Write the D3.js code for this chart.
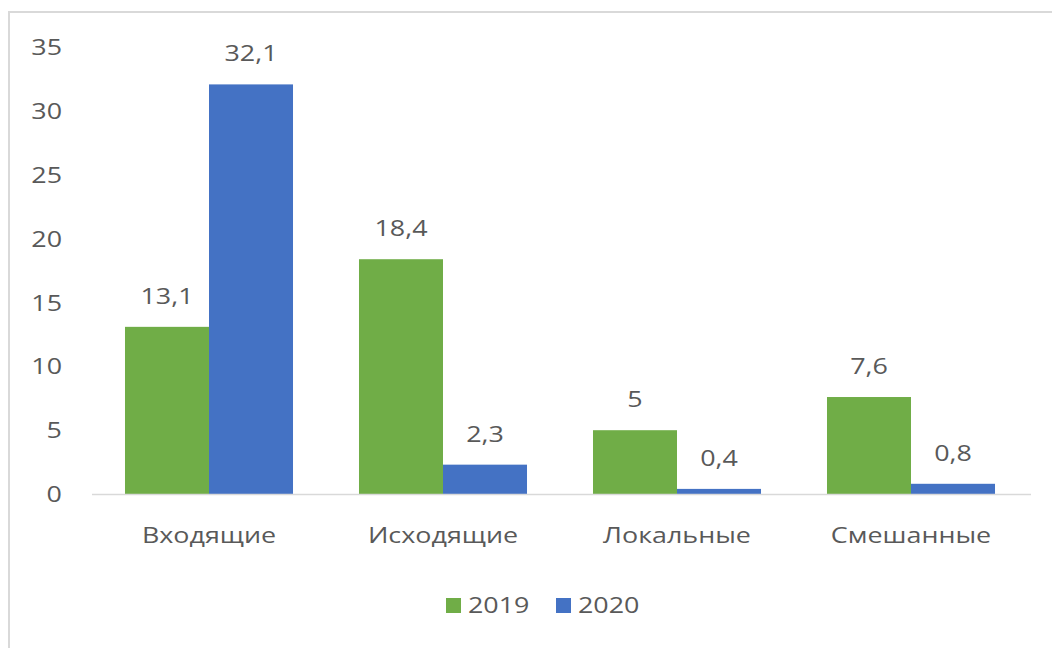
<!DOCTYPE html>
<html>
<head>
<meta charset="utf-8">
<script src="https://cdn.jsdelivr.net/npm/d3@7"></script>
<style>
html,body{margin:0;padding:0;background:#fff;}
svg text{font-family:"Open Sans","Noto Sans","DejaVu Sans",sans-serif;fill:#595959;}
</style>
</head>
<body>
<svg id="chart" width="1052" height="648"></svg>
<script>
const categories = ["Входящие", "Исходящие", "Локальные", "Смешанные"];
const seriesNames = ["2019", "2020"];
const values2019 = [13.1, 18.4, 5, 7.6];
const values2020 = [32.1, 2.3, 0.4, 0.8];
const yTicks = [0, 5, 10, 15, 20, 25, 30, 35];
const colors = ["#70AD47", "#4472C4"];

const FS = "21px";
const K = 1.28; // horizontal stretch of the reference lettering

function stretch(sel) {
  sel.each(function () {
    const t = d3.select(this);
    const ax = +t.attr("x") || 0;
    t.attr("transform", `translate(${ax * (1 - K)},0) scale(${K},1)`);
  });
}

const svg = d3.select("#chart");

// chart border (left and top visible)
svg.append("rect").attr("x", 9).attr("y", 12).attr("width", 1100).attr("height", 700)
  .attr("fill", "#fff").attr("stroke", "#d9d9d9").attr("stroke-width", 2);

const plot = {left: 92, right: 1028, top: 47.4, bottom: 494};

const x0 = d3.scaleBand().domain(categories).range([plot.left, plot.right]).paddingInner(0.282).paddingOuter(0.141);
const x1 = d3.scaleBand().domain(seriesNames).range([0, x0.bandwidth()]).padding(0);
const y = d3.scaleLinear().domain([0, 35]).range([plot.bottom, plot.top]);

const fmt = v => String(v).replace(".", ",");

// y axis labels (right aligned)
const yAxis = d3.axisLeft(y).tickValues(yTicks).tickSize(0).tickPadding(0).tickFormat(d3.format("d"));
const yg = svg.append("g").attr("transform", `translate(${plot.left - 30},0)`).call(yAxis);
yg.select(".domain").remove();
yg.selectAll("text").attr("text-anchor", "end").attr("x", 0).attr("dy", "0.36em")
  .style("font-size", FS).style("fill", "#595959").call(stretch);

const data = categories.map((c, i) => ({cat: c, vals: [values2019[i], values2020[i]]}));

const groups = svg.append("g").selectAll("g").data(data).join("g")
  .attr("transform", d => `translate(${x0(d.cat)},0)`);

groups.selectAll("rect").data(d => d.vals.map((v, j) => ({s: seriesNames[j], v, j}))).join("rect")
  .attr("x", d => x1(d.s)).attr("width", x1.bandwidth())
  .attr("y", d => y(d.v)).attr("height", d => y(0) - y(d.v))
  .attr("fill", d => colors[d.j]);

groups.selectAll("text.lbl").data(d => d.vals.map((v, j) => ({s: seriesNames[j], v, j}))).join("text")
  .attr("class", "lbl")
  .attr("x", d => x1(d.s) + x1.bandwidth() / 2)
  .attr("y", d => y(d.v) - 23)
  .attr("text-anchor", "middle")
  .style("font-size", FS)
  .text(d => fmt(d.v))
  .call(stretch);

// baseline
svg.append("line").attr("x1", plot.left).attr("x2", plot.right + 3)
  .attr("y1", y(0) + 0.5).attr("y2", y(0) + 0.5).attr("stroke", "#d9d9d9").attr("stroke-width", 1.5);

// x axis labels
const xAxis = d3.axisBottom(x0).tickSize(0).tickPadding(0);
const xg = svg.append("g").attr("transform", `translate(0,${plot.bottom})`).call(xAxis);
xg.select(".domain").remove();
xg.selectAll("text").attr("x", 0).attr("y", 49).attr("dy", 0)
  .style("font-size", FS).style("fill", "#595959").call(stretch);

// legend
const legend = svg.append("g");
const legendItems = [{x: 446, name: seriesNames[0], c: colors[0]}, {x: 556, name: seriesNames[1], c: colors[1]}];
legendItems.forEach(it => {
  legend.append("rect").attr("x", it.x).attr("y", 598).attr("width", 15).attr("height", 15).attr("fill", it.c);
  legend.append("text").attr("x", it.x + 22).attr("y", 613).style("font-size", FS).text(it.name).call(stretch);
});
</script>
</body>
</html>
